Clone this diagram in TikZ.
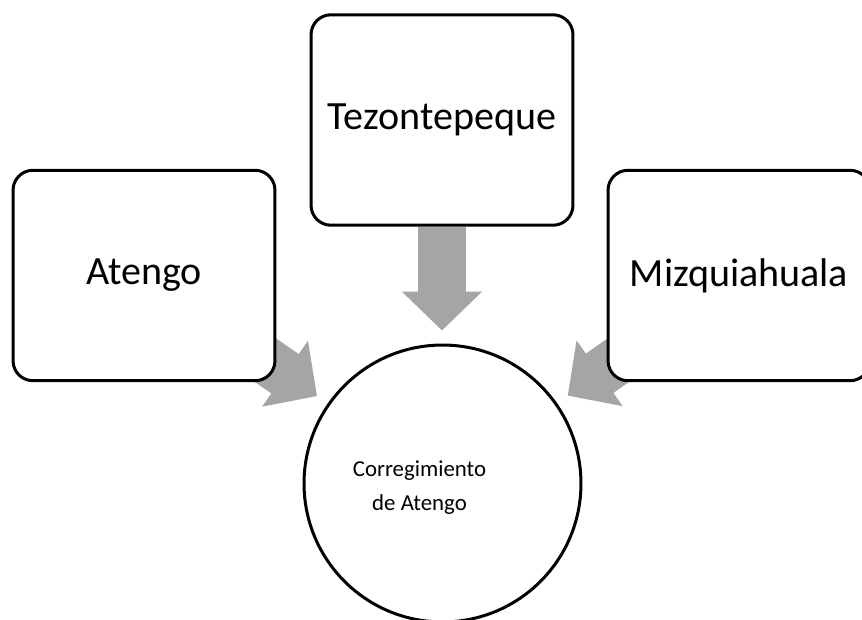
\documentclass[tikz,border=0pt]{standalone}
\usepackage{fontspec}
\setmainfont{Carlito}
\usetikzlibrary{arrows.meta,backgrounds}
\definecolor{flowgray}{RGB}{165,165,165}
\tikzset{place/.style={draw, line width=0.06cm, rounded corners=0.4cm, fill=white,
           minimum width=5.24cm, minimum height=4.21cm,
           font=\fontsize{22.8}{27}\selectfont},
         hub/.style={circle, draw, line width=0.06cm, fill=white,
           minimum size=5.54cm},
         hubtext/.style={align=center, xshift=-0.46cm, yshift=-0.08cm,
           font=\fontsize{13}{19}\selectfont},
         flow/.style={draw=flowgray, line width=0.96cm, shorten >=0.26cm,
           -{Triangle[length=0.78cm,width=1.56cm]}}}

\begin{document}
\begin{tikzpicture}[x=0.02cm, y=-0.02cm]

	\useasboundingbox (0,0) rectangle (862,619);
	\node[place] (atengo)  at (144,275.5) {Atengo};
	\node[place] (tezonte) at (442,120)   {Tezontepeque};
	\node[place] (mizqui)  at (739,275.5) {Mizquiahuala};
	\node[hub, label={[hubtext]center:Corregimiento\\de Atengo}] (correg) at (442.5,483.5) {};
	\begin{scope}[on background layer]
		\draw[flow] (tezonte.south) -- (tezonte.south |- correg.north);
		\draw[flow] (atengo.center) -- (correg);
		\draw[flow] (mizqui.center) -- (correg);
	\end{scope}
\end{tikzpicture}
\end{document}
